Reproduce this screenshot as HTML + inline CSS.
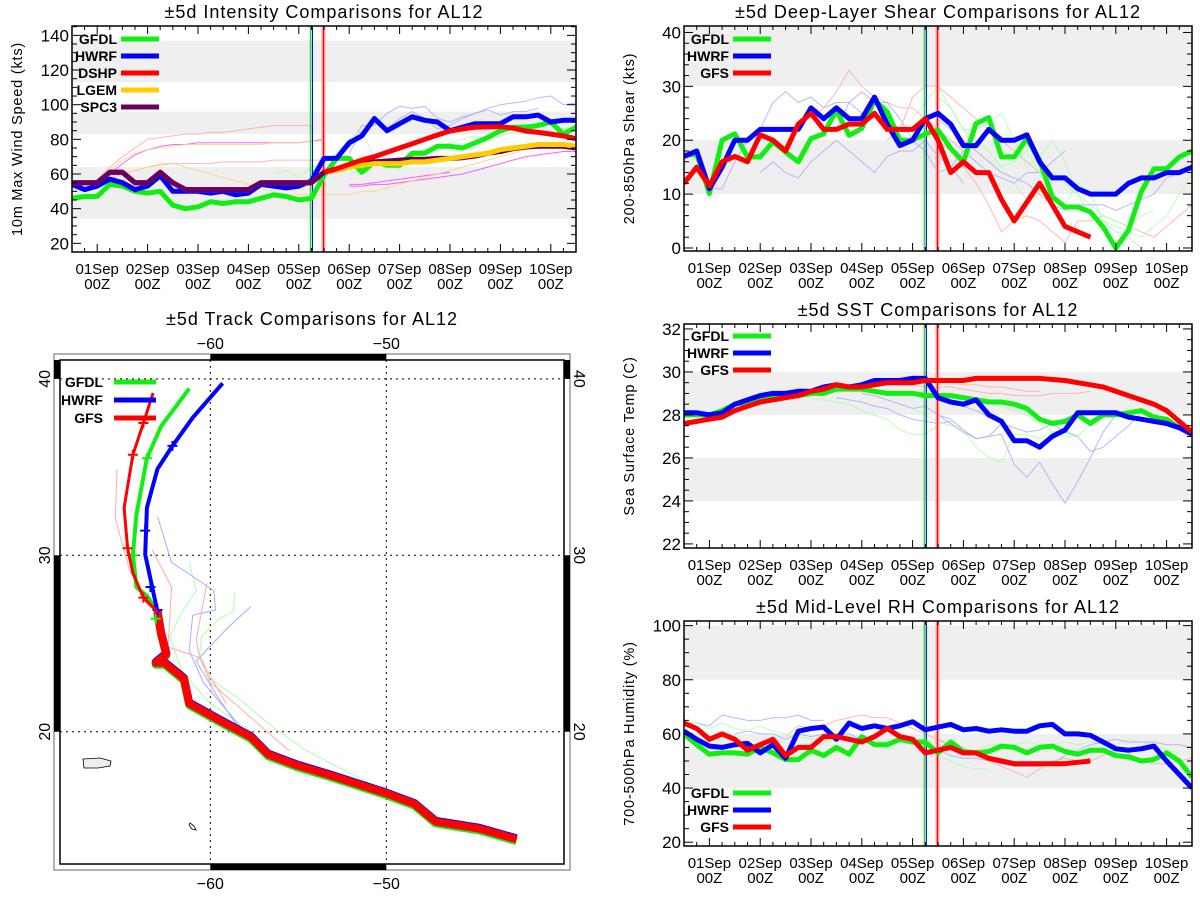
<!DOCTYPE html>
<html><head><meta charset="utf-8"><style>
html,body{margin:0;padding:0;background:#fff;}
svg{display:block;font-family:"Liberation Sans",sans-serif;}
</style></head><body>
<svg id="fig" width="1200" height="900" viewBox="0 0 1200 900" xmlns="http://www.w3.org/2000/svg"></svg>
<script>
// ===== Data (6-hourly, starting at day -0.5 relative to 01Sep 00Z) =====
const dayLabels = ["01Sep","02Sep","03Sep","04Sep","05Sep","06Sep","07Sep","08Sep","09Sep","10Sep"];
// Intensity (kts)
const intGFDL = [46,47,47,54,53,50,49,50,42,40,41,44,43,44,44,46,48,47,45,46,59,69,69,61,67,65,65,72,72,76,76,75,78,81,85,87,87,88,90,83,87];
const intHWRF = [54,51,53,57,55,51,53,59,50,50,50,49,50,48,49,54,53,52,53,56,69,69,78,82,92,85,89,93,91,90,85,87,89,89,89,93,93,94,90,91,91];
const intSPC3 = [55,55,55,61,61,55,55,61,55,51,51,51,51,51,51,55,55,55,55,55,61,63,65,66,67,67.5,68,68.5,68.5,69,69,69.4,70.4,72,73,74.6,75.6,76,76,76,75];
const intLGEM = [55,55,55,61,61,55,55,61,55,51,51,51,51,51,51,55,55,55,55,55,61,62,64,65,66,66,66,67,67,68,69,70,71,72,74,75,76,77,77,77,76];
const intDSHP = [55,55,55,61,61,55,55,61,55,51,51,51,51,51,51,55,55,55,55,55,61,63,65.6,68,70,72.5,75,77.5,80,82.5,84.8,86,87,87.2,87.3,86.5,84.8,84,83,82,80.4];
const intThinStart = [0,0,0,0,5,5,5,5,3.5,5,-0.5];
const intThinColor = ["#ffaaaa","#ff44ff","#ffd27f","#ffaaaa","#ff44ff","#ff44ff","#aaaaff","#aaaaff","#aaffaa","#aaffaa","#ffd27f"];
const intThinVals = [
 [57,64,70,75,80,81,82,83,83,84,84,85,86,87,88,88,88,88],
 [55,60,66,71,74,76,77,77,78,78,78,78,78,78,78,78,78,79,80],
 [55,62,68,72,74,75,76,77,77,77,77,77,77,77,78,78,78,79,79],
 [55,57,60,62,64,65,66,66,66,66,67,67,67,67,68,68,68,68,68],
 [53,53,54,54,55,56,57,58,59,60,62,64,66,68,70,71,72,73,73],
 [54,54,55,56,57,58,59,60,61],
 [75,88,88,95,99,98,99,92,90,93,95,98,100,101,102,104,105,100,101,102,100],
 [72,85,90,86,92,96,92,86,88,92,95,97,94,96,96,98],
 [60,62,58,64,66,72,80,85,70,66,62],
 [60,62,66,66,68,72,74,76,78,80,82,80,82,84,86,88,88,86,86,87,85],
 [55,55,56,58,60,62,64,66,66,64,62,60,58,56,54,52,50,48,48,48,48,48,48,50,50,52,54,56,58,60,62,64,66,68,70,72,74,76,76,77]
];
// Shear (kts)
const shrGFDL = [17.2,17.4,10.1,20,21.2,16.9,16.9,19.7,17.8,16,20.3,21.2,25.6,20.9,22.2,27.4,25.3,20,20,21.2,21.9,18.5,16,23.1,24.2,16.9,16.9,20.3,16.3,9.5,7.6,7.6,6.7,3.9,0,3.3,10.4,14.7,14.7,16.9,18];
const shrHWRF = [17,18,11,15,20,20,22,22,22,22,26,24,26,24,24,28,23,19,20,24,25,23,19,19,22,20,20,21,16,13,13,11,10,10,10,12,13,13,14,14,15];
const shrGFS = [12,15,11.5,16,17,16,21,20,18,23,25,22,22,23,23,25,22,22,22,24,20,14,16,14,14,9,5,8.5,12,8,4,3,2];
const shrThinStart = [0,1,2,3.5,4.5,4.5,5,2.5,4,4.5];
const shrThinColor = ["#aaaaff","#aaaaff","#ffaaaa","#ffaaaa","#ffaaaa","#aaffaa","#aaffaa","#aaaaff","#aaffaa","#aaaaff"];
const shrThinVals = [
 [11,11,16,20,22,27,29,27,28,26,27,27,25,24,24,22],
 [14,16,14,13,16,18,20,18,16,14,17,18,18,20,17,15,12],
 [24,26,29,33,30,28,27,26,26,24,22,20,18,16],
 [20,22,28,30,30,28,26,24,22,20,18,16,14,12],
 [20,18,15,12,8,3,5,6,5,3,1,5,5,6,5,4,3,2,4,6,8],
 [28,26,22,20,18,15,12,9,10,14,12,10,8,6,5,4,6,7],
 [22,22,23,25,20,15,17,20,16,10,6,5,4,3,2,4,6,10,14,15],
 [22,27,29,27,27,24,20,18,14,15,18,16,14,13,12,14,14,16,18],
 [24,27,30,26,22,18,16,15,16,18,14,10,8,12,10,5,3,2,0],
 [24,22,20,18,16,14,13,12,10,8,7,8,8,8,7,8,9,10,13,14,15,14,15,18,17,15,13]
];
// SST (C)
const sstGFDL = [28.0,28.0,28.0,28.2,28.5,28.6,28.8,28.9,28.9,28.9,29.0,29.0,29.2,29.2,29.2,29.1,29.0,29.0,29.0,28.9,28.9,28.9,28.8,28.7,28.6,28.6,28.5,28.3,27.8,27.6,27.7,28.0,27.6,28.0,28.0,28.1,28.2,27.9,27.8,27.4,27.1];
const sstHWRF = [28.1,28.1,28.0,28.1,28.5,28.7,28.9,29.0,29.0,29.1,29.1,29.3,29.4,29.3,29.4,29.6,29.6,29.6,29.7,29.7,28.8,28.6,28.5,28.7,28.0,27.7,26.8,26.8,26.5,27.0,27.3,28.1,28.1,28.1,28.1,27.9,27.8,27.7,27.6,27.4,27.1];
const sstGFS = [27.6,27.7,27.8,27.9,28.2,28.4,28.6,28.7,28.8,28.9,29.1,29.2,29.4,29.3,29.3,29.4,29.5,29.5,29.5,29.6,29.6,29.6,29.6,29.7,29.7,29.7,29.7,29.7,29.7,29.65,29.6,29.5,29.4,29.3,29.1,28.9,28.7,28.5,28.2,27.7,27.2];
const sstThinStart = [2,2.5,3,4,4.5,5,5.5,4.5,4];
const sstThinColor = ["#aaffaa","#aaaaff","#aaaaff","#aaffaa","#aaaaff","#aaaaff","#aaffaa","#ffaaaa","#ffaaaa"];
const sstThinVals = [
 [28.7,28.7,28.6,28.5,28.2,28.0,27.8,27.3,27.1,27.1,27.5],
 [28.8,28.7,28.6,28.4,28.3,28.0,27.8,27.7,27.6,27.7],
 [29.0,28.9,28.7,28.5,28.3,28.4,28.0,27.8,27.3,26.9,27.0,27.6],
 [28.3,28.0,27.7,27.5,27.3,26.5,26.0,25.8,27.1,27.1,26.9,27.2,27.3,27.0],
 [28.0,27.6,27.2,26.9,27.0,27.1,25.7,25.1,25.8,24.8,23.9,24.9,26.0,27.2,28.0],
 [28.4,28.2,27.9,27.6,27.4,27.2,27.3,27.6,27.2,27.0,26.3,26.5,27.0,27.5,28.1],
 [28.6,28.4,28.2,28.0,27.6,27.2,27.0,27.0,27.6,27.9,28.0],
 [29.5,29.5,29.4,29.4,29.3,29.3,29.2,29.1,29.1],
 [29.4,29.3,29.3,29.3,29.2,29.1,29.0,29.0,28.9,28.9,28.9,29.0,29.0,29.0,29.1]
];
// RH (%)
const rhGFDL = [60,56,52.5,53,53,52.5,55,53,50.5,50.5,54,52,55,52.5,59,56,56,58,57,57,53,57,53.5,53,53.5,55.5,55,53,55,55.5,53.5,52.5,54,54,52,51.5,50,50.5,53,50,44];
const rhHWRF = [61,58,55.5,55,56,56.5,53,56,51,61,62,62.5,58,64,62,63,62,63,64.5,61.5,62.5,63.5,61.5,62,61,61.5,61,61,63,63.5,60,60,59.5,57,54.5,54,54.5,55.5,50,45,40];
const rhGFS = [64,62,58,60,58,54,56,58,52,55,55,59,59,58,57,59,62,59,58,53,54,55,53,53,51,50,49,49,49,49,49,49.5,50];
const rhThinStart = [-0.5,0.5,1.5,3,4,4.5,5,-0.5,7.5];
const rhThinColor = ["#aaaaff","#aaaaff","#ffaaaa","#aaffaa","#aaaaff","#ffaaaa","#aaffaa","#aaffaa","#aaaaff"];
const rhThinVals = [
 [64,64,63,67,66,65,65,66,66,67,65,65],
 [60,61,60,60,58,60,59,60,60,60,58,57,55],
 [59,63,62,63,65,66,67,66,66,64,62,60,58,55],
 [58,58,57,58,56,54,52,50,48,47,47],
 [58,56,54,52,51,51,50,49,48,48,48,49,52,54,56],
 [58,56,54,52,50,48,46,44,47,50,51,50,50,52,54,53,50,49,49,50,51,53,55],
 [54,54,56,56,56,57,56,56,57,56,57,56,56,58,57,56,54,53],
 [64,64,62,64,62,61,63,61,60,59,58,57,58,58,57,56,55,54],
 [56,57,58,57,57,57,56,56,55,55,56,57,56,55]
];
// Track (lon, lat)
const trkLower = [[-42.6,13.9],[-44.7,14.5],[-47.2,14.9],[-48.4,15.9],[-50,16.5],[-53.1,17.5],[-55.1,18.1],[-56.7,18.7],[-57.7,19.7],[-59.4,20.6],[-61.2,21.6],[-61.5,23.0],[-62.6,23.9],[-63.1,23.9],[-62.5,24.4],[-62.7,25.2],[-62.8,25.6],[-63.0,26.8]];
const trkGFSUpper = [[-63.8,27.6],[-64.4,29.0],[-64.7,30.4],[-64.9,32.7],[-64.4,35.7],[-63.8,37.5],[-63.25,39.2]];
const trkGFDLUpper = [[-63.6,27.7],[-64.2,28.2],[-64.4,30.05],[-64.2,32.3],[-63.6,35.5],[-62.8,37.3],[-61.2,39.45]];
const trkHWRFUpper = [[-63.3,28.2],[-63.7,30.05],[-63.6,32.7],[-63.0,34.9],[-62.15,36.2],[-61.0,37.8],[-59.3,39.75]];
const trkGFSMarks = [[-64.4,35.7],[-64.7,30.4],[-63.8,27.6],[-63.8,37.5]];
const trkGFDLMarks = [[-63.6,35.5],[-64.4,30.0],[-63.1,26.4]];
const trkHWRFMarks = [[-62.15,36.2],[-63.7,31.4],[-63.4,28.2],[-63.0,26.9]];
const trkThinColor = ["#aaffaa","#aaffaa","#aaaaff","#aaaaff","#ffaaaa","#ffaaaa","#ffaaaa"];
const trkThin = [
 [[-58.6,27.9],[-58.7,26.8],[-59.5,26.4],[-60.5,25.4],[-60.6,24.4],[-60,23],[-58.3,21.8],[-56.5,20.3],[-54.5,18.9],[-50.2,16.7]],
 [[-61.2,29.6],[-60.8,28.0],[-61.6,26.8],[-62.3,25.4],[-61.6,23.4],[-60,21.6],[-57.5,19.9]],
 [[-63,32.2],[-62.2,29.6],[-60.4,28.4],[-59.8,28.0],[-59.7,26.9],[-61,26.6],[-61.2,24.6],[-60.4,22.8],[-58.3,20.3]],
 [[-57.7,27.1],[-59.1,25.8],[-60.8,24.0],[-59.6,22.0],[-57.9,19.5]],
 [[-65.3,34.9],[-65.4,32.1],[-64.6,29.2],[-63.6,27.2],[-63.0,26.8]],
 [[-63.3,30.3],[-62.2,28.2],[-62.4,24.8],[-60.6,24.2],[-60,22.8],[-55.5,18.9]],
 [[-60.2,28.4],[-60.8,25.2],[-60.6,24.2],[-59.1,21.6]]
];

// ===== Rendering =====
const NS = "http://www.w3.org/2000/svg";
const svg = document.getElementById("fig");
function mk(tag, attrs, parent){
  const e = document.createElementNS(NS, tag);
  for (const k in attrs) e.setAttribute(k, attrs[k]);
  (parent||svg).appendChild(e);
  return e;
}
function txt(s, attrs, parent){ const t = mk("text", attrs, parent); t.textContent = s; return t; }

function series(g, xs, ys, start, vals, color, width, opacity, name){
  let d = "";
  vals.forEach((v,i)=>{ d += (i?"L":"M") + xs(start+0.25*i).toFixed(1) + "," + ys(v).toFixed(1); });
  const p = mk("path", {d:d, fill:"none", stroke:color, "stroke-width":width, "stroke-opacity":opacity, "stroke-linejoin":"round"}, g);
  
  
  return p;
}

function panel(cfg){
  const g = mk("g", {});
  
  
  const L=cfg.L, R=cfg.R, T=cfg.T, B=cfg.B;
  const xs = d => L + (d + 0.5) / 10 * (R - L);
  const ys = v => B - (v - cfg.ymin) / (cfg.ymax - cfg.ymin) * (B - T);
  const clipId = cfg.name + "-clip";
  const cp = mk("clipPath", {id: clipId}, g);
  mk("rect", {x:L, y:T, width:R-L, height:B-T}, cp);
  cfg.bands.forEach(b=>{
    const r = mk("rect", {x:L, y:ys(Math.min(b[1],cfg.ymax)), width:R-L, height:ys(b[0])-ys(Math.min(b[1],cfg.ymax)), fill:"#efefef"}, g);
    
    
  });
  const dg = mk("g", {"clip-path":"url(#"+clipId+")"}, g);
  cfg.thin.forEach((vals,i)=> series(dg, xs, ys, cfg.thinStart[i], vals, cfg.thinColor[i], 1, 0.85, "ensemble-line"));
  const vl = [[4.23,"#00ee00",1.2],[4.27,"#0000ff",1.2],[4.49,"#ffaaaa",4],[4.49,"#ff0000",1.2]];
  vl.forEach(v=>{
    const l = mk("line", {x1:xs(v[0]), x2:xs(v[0]), y1:T, y2:B, stroke:v[1], "stroke-width":v[2]}, dg);
    
    
  });
  cfg.series.forEach(s=> series(dg, xs, ys, -0.5, s.vals, s.color, 5, 1, s.name));
  const fr = mk("rect", {x:L, y:T, width:R-L, height:B-T, fill:"none", stroke:"#000", "stroke-width":1.5}, g);
  
  
  // y ticks
  for (let v=cfg.ymin0; v<=cfg.ymax+1e-6; v+=cfg.minor){
    const q = (v - cfg.majBase) / cfg.major;
    const isMaj = Math.abs(q - Math.round(q)) < 1e-6;
    const y = ys(v), len = isMaj ? 9 : 5;
    mk("line", {x1:L, x2:L+len, y1:y, y2:y, stroke:"#000", "stroke-width":1}, g);
    mk("line", {x1:R, x2:R-len, y1:y, y2:y, stroke:"#000", "stroke-width":1}, g);
    if (isMaj){
      const t = txt(String(Math.round(v)), {x:L-3, y:y+6, "text-anchor":"end", "font-size":17}, g);
      
      
    }
  }
  for (let i=0;i<=40;i++){
    const d = -0.5 + 0.25*i, x = xs(d);
    const isMaj = Math.abs(d - Math.round(d)) < 1e-6;
    const len = isMaj ? 8 : 4;
    mk("line", {x1:x, x2:x, y1:B, y2:B-len, stroke:"#000", "stroke-width":1}, g);
    mk("line", {x1:x, x2:x, y1:T, y2:T+len, stroke:"#000", "stroke-width":1}, g);
  }
  dayLabels.forEach((lab,i)=>{
    const x = xs(i);
    const t1 = txt(lab, {x:x, y:B+22, "text-anchor":"middle", "font-size":15}, g);
    
    
    const t2 = txt("00Z", {x:x, y:B+37, "text-anchor":"middle", "font-size":15}, g);
    
    
  });
  const ti = txt(cfg.title, {x:(L+R)/2, y:T-8, "text-anchor":"middle", "font-size":18, "letter-spacing":"1"}, g);
  
  
  const yt = txt(cfg.ytitle, {x:0, y:0, "text-anchor":"middle", "font-size":14.5, "letter-spacing":"0.8", transform:"translate("+(L-50)+","+((T+B)/2)+") rotate(-90)"}, g);
  
  
  cfg.legend.forEach((s,i)=>{
    const y = cfg.legY + i*17;
    const lg = mk("g", {}, g);
    
    
    txt(s.name.toUpperCase(), {x:cfg.legTx, y:y+5, "text-anchor":"end", "font-size":14, "font-weight":"bold"}, lg);
    mk("line", {x1:cfg.legTx+4, x2:cfg.legTx+42, y1:y, y2:y, stroke:s.color, "stroke-width":5}, lg);
  });
}

const GREEN="#11ee11", BLUE="#0000ff", RED="#ff0000";
panel({name:"intensity-panel", L:72, R:576, T:26, B:252, ymin:15, ymax:145.4, ymin0:15, majBase:20, major:20, minor:5,
  bands:[[34,64],[83,96],[113,137]], title:"\u00b15d Intensity Comparisons for AL12", ytitle:"10m Max Wind Speed (kts)",
  thin:intThinVals, thinStart:intThinStart, thinColor:intThinColor,
  series:[{name:"gfdl",vals:intGFDL,color:GREEN},{name:"hwrf",vals:intHWRF,color:BLUE},{name:"spc3",vals:intSPC3,color:"#660066"},{name:"lgem",vals:intLGEM,color:"#ffcc00"},{name:"dshp",vals:intDSHP,color:RED},{name:"spc3",vals:intSPC3.slice(0,21),color:"#660066"}],
  legend:[{name:"gfdl",color:GREEN},{name:"hwrf",color:BLUE},{name:"dshp",color:RED},{name:"lgem",color:"#ffcc00"},{name:"spc3",color:"#660066"}],
  legY:39, legTx:117});
panel({name:"shear-panel", L:684, R:1192, T:26, B:251, ymin:-0.56, ymax:41.2, ymin0:0, majBase:0, major:10, minor:2,
  bands:[[10,20],[30,41.2]], title:"\u00b15d Deep-Layer Shear Comparisons for AL12", ytitle:"200-850hPa Shear (kts)",
  thin:shrThinVals, thinStart:shrThinStart, thinColor:shrThinColor,
  series:[{name:"gfdl",vals:shrGFDL,color:GREEN},{name:"hwrf",vals:shrHWRF,color:BLUE},{name:"gfs",vals:shrGFS,color:RED}],
  legend:[{name:"gfdl",color:GREEN},{name:"hwrf",color:BLUE},{name:"gfs",color:RED}], legY:39, legTx:729});
panel({name:"sst-panel", L:684, R:1192, T:324, B:548, ymin:21.81, ymax:32.23, ymin0:22, majBase:22, major:2, minor:0.5,
  bands:[[24,26],[28,30]], title:"\u00b15d SST Comparisons for AL12", ytitle:"Sea Surface Temp (C)",
  thin:sstThinVals, thinStart:sstThinStart, thinColor:sstThinColor,
  series:[{name:"gfdl",vals:sstGFDL,color:GREEN},{name:"hwrf",vals:sstHWRF,color:BLUE},{name:"gfs",vals:sstGFS,color:RED}],
  legend:[{name:"gfdl",color:GREEN},{name:"hwrf",color:BLUE},{name:"gfs",color:RED}], legY:336, legTx:729});
panel({name:"rh-panel", L:684, R:1192, T:621, B:846, ymin:18.6, ymax:101.7, ymin0:20, majBase:20, major:20, minor:5,
  bands:[[40,60],[80,100]], title:"\u00b15d Mid-Level RH Comparisons for AL12", ytitle:"700-500hPa Humidity (%)",
  thin:rhThinVals, thinStart:rhThinStart, thinColor:rhThinColor,
  series:[{name:"gfdl",vals:rhGFDL,color:GREEN},{name:"hwrf",vals:rhHWRF,color:BLUE},{name:"gfs",vals:rhGFS,color:RED}],
  legend:[{name:"gfdl",color:GREEN},{name:"hwrf",color:BLUE},{name:"gfs",color:RED}], legY:793, legTx:729});

// ===== Track map =====
(function(){
  const g = mk("g", {});
  
  
  const lx = lon => 210.3 + (lon + 60) * 17.6;
  const ly = lat => 731.7 - (lat - 20) * 17.64;
  const IL=60, IR=564, IT=360, IB=864, OL=54, OR=570, OT=354, OB=870;
  const tt = txt("\u00b15d Track Comparisons for AL12", {x:312, y:325, "text-anchor":"middle", "font-size":18, "letter-spacing":"1"}, g);
  
  
  mk("rect", {x:OL, y:OT, width:OR-OL, height:OB-OT, fill:"none", stroke:"#999", "stroke-width":1.5}, g);
  [[lx(-60),OT,lx(-50)-lx(-60),IT-OT],[lx(-60),IB,lx(-50)-lx(-60),OB-IB],
   [OL,IT,IL-OL,ly(40)-IT],[OL,ly(30),IL-OL,ly(20)-ly(30)],
   [IR,IT,OR-IR,ly(40)-IT],[IR,ly(30),OR-IR,ly(20)-ly(30)]].forEach(b=>{
    const r = mk("rect", {x:b[0], y:b[1], width:b[2], height:b[3], fill:"#000"}, g);
    
    
  });
  mk("rect", {x:IL, y:IT, width:IR-IL, height:IB-IT, fill:"#fff", stroke:"#000", "stroke-width":1.5}, g);
  [-60,-50].forEach(lon=>{
    mk("line",{x1:lx(lon),x2:lx(lon),y1:IT,y2:IB,stroke:"#000","stroke-width":1,"stroke-dasharray":"2,4"},g);
    txt(String(lon).replace("-","\u2212"),{x:lx(lon),y:OT-5,"text-anchor":"middle","font-size":16},g);
    txt(String(lon).replace("-","\u2212"),{x:lx(lon),y:OB+19,"text-anchor":"middle","font-size":16},g);
  });
  [20,30,40].forEach(lat=>{
    mk("line",{x1:IL,x2:IR,y1:ly(lat),y2:ly(lat),stroke:"#000","stroke-width":1,"stroke-dasharray":"2,4"},g);
    txt(String(lat),{x:0,y:0,"text-anchor":"middle","font-size":16,transform:"translate("+(OL-4)+","+ly(lat)+") rotate(-90)"},g);
    txt(String(lat),{x:0,y:0,"text-anchor":"middle","font-size":16,transform:"translate("+(OR+4)+","+ly(lat)+") rotate(90)"},g);
  });
  const pr = mk("path",{d:"M83,759 L100,758 L111,761 L110,766 L98,768 L84,768 Z",fill:"#eee",stroke:"#000","stroke-width":0.8},g);
  
  
  mk("path",{d:"M190,823 L194,826 L196,830 L192,829 L189,825 Z",fill:"#fff",stroke:"#000","stroke-width":0.8},g);
  const pts = arr => arr.map((p,i)=>(i?"L":"M")+lx(p[0]).toFixed(1)+","+ly(p[1]).toFixed(1)).join("");
  trkThin.forEach((t,i)=>{
    const p = mk("path",{d:pts(t),fill:"none",stroke:trkThinColor[i],"stroke-width":1},g);
    
    
  });
  const main = [["gfdl-track",trkGFDLUpper,GREEN,4,trkGFDLMarks,0.1],["hwrf-track",trkHWRFUpper,BLUE,4,trkHWRFMarks,-0.05],["gfs-track",trkGFSUpper,RED,3,trkGFSMarks,0]];
  main.forEach(m=>{
    const lower = trkLower.map(p=>[p[0],p[1]-m[5]]);
    const lp = mk("path",{d:pts(lower),fill:"none",stroke:m[2],"stroke-width":8,"stroke-linejoin":"round"},g);
    
    
  });
  main.forEach(m=>{
    const up = [trkLower[trkLower.length-1]].concat(m[1]);
    const p = mk("path",{d:pts(up),fill:"none",stroke:m[2],"stroke-width":m[3],"stroke-linejoin":"round"},g);
    
    
    m[4].forEach(c=>{
      const x=lx(c[0]), y=ly(c[1]);
      mk("path",{d:"M"+(x-5)+","+y+"H"+(x+5)+"M"+x+","+(y-5)+"V"+(y+5),stroke:m[2],"stroke-width":2},g);
    });
  });
  [["GFDL",GREEN],["HWRF",BLUE],["GFS",RED]].forEach((s,i)=>{
    const y = 382 + i*18;
    const lg = mk("g",{},g);
    
    
    txt(s[0],{x:103,y:y+5,"text-anchor":"end","font-size":14,"font-weight":"bold"},lg);
    mk("line",{x1:114,x2:156,y1:y,y2:y,stroke:s[1],"stroke-width":5},lg);
  });
})();
</script>
</body></html>
